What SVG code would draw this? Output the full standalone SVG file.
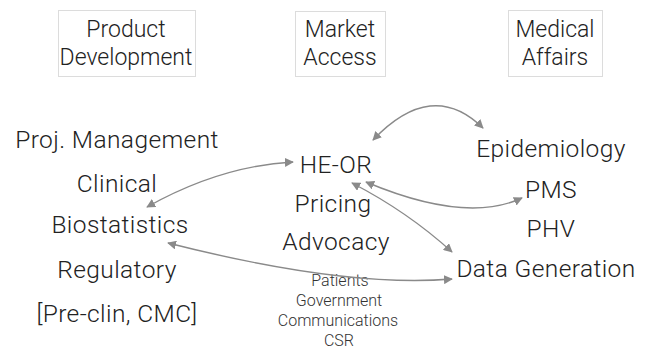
<svg xmlns="http://www.w3.org/2000/svg" width="655" height="351" viewBox="0 0 655 351">
  <style>
    .t { font-family: Roboto, "Liberation Sans", Arial, sans-serif; font-weight: 300; fill: #222; text-anchor: middle; }
    .hd { font-size: 23px; }
    .it { font-size: 24.5px; letter-spacing: 0.4px; }
    .sm { font-size: 16px; fill: #333; }
    .box { fill: none; stroke: #dcdcdc; stroke-width: 1; }
    .link { fill: none; stroke: #8a8a8a; stroke-width: 1.4; marker-start: url(#arr); marker-end: url(#arr); }
  </style>
  <defs>
    <marker id="arr" viewBox="0 0 10 10" refX="9" refY="5" markerWidth="9" markerHeight="9" markerUnits="userSpaceOnUse" orient="auto-start-reverse">
      <path d="M0,0 L10,5 L0,10 z" fill="#8a8a8a"/>
    </marker>
  </defs>
  <rect width="655" height="351" fill="#fff"/>

  <!-- column headers -->
  <g id="hdr-product">
    <rect class="box" x="58.5" y="10.5" width="137" height="66"/>
    <text class="t hd" x="126" y="37">Product</text>
    <text class="t hd" x="126" y="65">Development</text>
  </g>
  <g id="hdr-market">
    <rect class="box" x="295.5" y="11.5" width="90" height="65"/>
    <text class="t hd" x="340" y="37">Market</text>
    <text class="t hd" x="340" y="65">Access</text>
  </g>
  <g id="hdr-medical">
    <rect class="box" x="508.5" y="10.5" width="94" height="66"/>
    <text class="t hd" x="555" y="37">Medical</text>
    <text class="t hd" x="555" y="65">Affairs</text>
  </g>

  <!-- product development items -->
  <g id="proj-management"><text class="t it" x="117" y="148">Proj. Management</text></g>
  <g id="clinical"><text class="t it" x="117" y="192">Clinical</text></g>
  <g id="biostatistics"><text class="t it" x="120" y="233">Biostatistics</text></g>
  <g id="regulatory"><text class="t it" x="117" y="278">Regulatory</text></g>
  <g id="pre-clin"><text class="t it" x="117" y="322">[Pre-clin, CMC]</text></g>

  <!-- market access items -->
  <g id="heor"><text class="t it" x="336" y="173">HE-OR</text></g>
  <g id="pricing"><text class="t it" x="333" y="212">Pricing</text></g>
  <g id="advocacy"><text class="t it" x="336" y="250">Advocacy</text></g>
  <g id="advocacy-targets">
    <text class="t sm" x="340" y="286">Patients</text>
    <text class="t sm" x="339" y="306">Government</text>
    <text class="t sm" x="338" y="326">Communications</text>
    <text class="t sm" x="339" y="346">CSR</text>
  </g>

  <!-- medical affairs items -->
  <g id="epidemiology"><text class="t it" x="551" y="157">Epidemiology</text></g>
  <g id="pms"><text class="t it" x="551" y="198">PMS</text></g>
  <g id="phv"><text class="t it" x="551" y="237">PHV</text></g>
  <g id="data-generation"><text class="t it" x="546" y="277">Data Generation</text></g>

  <!-- connectors -->
  <g id="connectors">
    <path class="link" d="M373,140 Q432,78 483,128"/>
    <path class="link" d="M147,207 Q220,166 293,162"/>
    <path class="link" d="M366,182 Q466,224 522,198"/>
    <path class="link" d="M352,183 Q408,212 452,252"/>
    <path class="link" d="M168,243 Q345,288 452,279"/>
  </g>
</svg>
